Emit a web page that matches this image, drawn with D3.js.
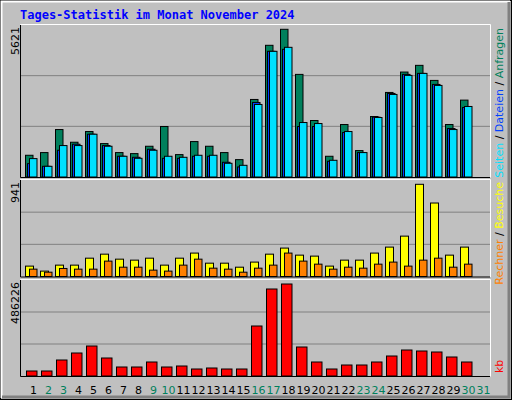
<!DOCTYPE html>
<html><head><meta charset="utf-8">
<script src="https://cdn.jsdelivr.net/npm/d3@7"></script>
<style>body{margin:0;background:#fff}svg{display:block}</style>
</head><body>
<script>
const days = d3.range(1, 32);
const weekend = [2,3,9,10,16,17,23,24,30,31];
const hits  = [827,929,1806,1323,1730,1272,929,890,1170,1921,852,1348,1170,929,661,2951,5012,5621,3905,2150,789,1997,1005,2302,3218,3994,4249,3676,1997,2926,0];
const files = [509,407,1018,1247,1628,1196,789,750,1056,712,712,789,789,560,382,2837,4783,4859,1921,1921,598,1692,929,2277,3180,3905,3943,3523,1844,2646,0];
const pages = [700,407,1196,1196,1628,1170,789,712,1018,789,750,827,827,522,445,2760,4783,4935,2073,2035,636,1730,929,2264,3142,3867,3943,3485,1806,2684,0];
const visits = [106,55,116,116,187,228,177,167,187,116,187,239,136,136,95,147,228,290,218,208,106,167,167,239,300,412,941,750,218,300,0];
const sites  = [75,44,82,75,75,157,95,95,65,55,116,177,85,75,44,85,116,239,157,126,75,95,85,126,147,106,167,187,95,126,0];
const kbytes = [26426,26426,84562,121557,158553,95132,47566,47566,73991,47566,52851,36996,42281,36996,36996,264255,459804,486226,153268,73991,36996,58136,58136,73991,105702,137413,132128,126842,100417,73991,0];
const maxLabels = ["5621","941","486226"];

const W=512,H=400;
const svg=d3.select("body").append("svg").attr("width",W).attr("height",H);
svg.append("rect").attr("x",0).attr("y",0).attr("width",W).attr("height",H).attr("fill","#c0c0c0");
// frame
svg.append("rect").attr("x",0.5).attr("y",0.5).attr("width",W-1).attr("height",H-1).attr("fill","none").attr("stroke","#000");
svg.append("path").attr("d",`M1.5,${H-2}V1.5H${W-2}`).attr("fill","none").attr("stroke","#fff").attr("stroke-width",2);
svg.append("path").attr("d",`M${W-3},2V${H-3}H2`).attr("fill","none").attr("stroke","#808080").attr("stroke-width",3);

svg.append("text").attr("x",20).attr("y",19).text("Tages-Statistik im Monat November 2024")
  .attr("font-family","DejaVu Sans Mono").attr("font-weight","bold").attr("font-size",12).attr("fill","#0000ff");

const x=d3.scaleLinear().domain([1,31]).range([25,475]);
const panels=[{top:25,bot:177,max:5621,ytop:29.3},{top:180,bot:276.5,max:941,ytop:184.3},{top:280,bot:376,max:486226,ytop:284}];
const ys=panels.map(p=>d3.scaleLinear().domain([0,p.max]).range([p.bot,p.ytop]));

panels.forEach((p,i)=>{
  const h=p.bot-p.top;
  [1,2].forEach(k=>svg.append("line").attr("x1",21).attr("x2",490).attr("y1",p.top+h*k/3).attr("y2",p.top+h*k/3).attr("stroke","#808080"));
  svg.append("path").attr("d",`M20.5,${p.bot}V${p.top-0.5}H490.5V${p.bot+0.5}`).attr("fill","none").attr("stroke","#fff");
  svg.append("path").attr("d",`M20.5,${p.top}V${p.bot+0.5}H490`).attr("fill","none").attr("stroke","#000");
  svg.append("text").attr("transform",`translate(19,${p.top+2}) rotate(-90)`).attr("text-anchor","end")
    .attr("font-family","DejaVu Sans").attr("font-size",11).attr("fill","#000").text(maxLabels[i]);
});

function bars(data,yS,off,w,col){
  svg.append("g").selectAll("rect").data(days.filter((d,i)=>data[i]>0)).join("rect")
    .attr("x",d=>x(d)+off+0.5).attr("width",w)
    .attr("y",d=>yS(data[d-1])).attr("height",d=>yS(0)-yS(data[d-1]))
    .attr("fill",col).attr("stroke","#000").attr("stroke-width",1);
}
bars(hits,ys[0],0,7.5,"#00805c");
bars(files,ys[0],2,7.5,"#0040ff");
bars(pages,ys[0],4,7.5,"#00e0ff");
bars(visits,ys[1],0,8,"#ffff00");
bars(sites,ys[1],4,7.5,"#ff8000");
bars(kbytes,ys[2],1,10.5,"#ff0000");

const ax=svg.append("g").attr("transform","translate(8,383)")
  .call(d3.axisBottom(x).tickValues(days).tickSize(0).tickFormat(d3.format("d")));
ax.select(".domain").remove();
ax.selectAll("text").attr("font-family","DejaVu Sans").attr("font-size",11)
  .attr("fill",d=>weekend.includes(d)?"#00805c":"#000");

function side(yEnd,parts){
  const t=svg.append("text").attr("transform",`translate(503,${yEnd}) rotate(-90)`).attr("text-anchor","end")
    .attr("font-family","DejaVu Sans").attr("font-size",11);
  parts.forEach(([s,c])=>t.append("tspan").attr("fill",c).text(s));
}
side(28,[["Seiten","#00e0ff"],[" / ","#000"],["Dateien","#0040ff"],[" / ","#000"],["Anfragen","#00805c"]]);
side(182,[["Rechner","#ff8000"],[" / ","#000"],["Besuche","#ffff00"]]);
side(373,[]);
svg.append("text").attr("transform","translate(503,373) rotate(-90)").attr("font-family","DejaVu Sans").attr("font-size",11).attr("fill","#ff0000").text("kb");
</script>
</body></html>
